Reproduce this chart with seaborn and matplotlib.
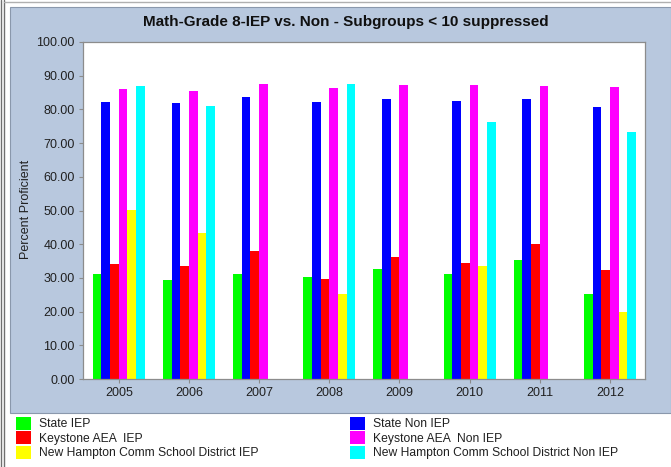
import numpy as np
import pandas as pd
import matplotlib
matplotlib.use("Agg")
import matplotlib.pyplot as plt
import seaborn as sns
from matplotlib.patches import Rectangle, Patch
from matplotlib.lines import Line2D
from matplotlib.ticker import FormatStrFormatter, MultipleLocator

# ---- data -------------------------------------------------------------
years = ["2005", "2006", "2007", "2008", "2009", "2010", "2011", "2012"]
series = [
    "State IEP",
    "State Non IEP",
    "Keystone AEA  IEP",
    "Keystone AEA  Non IEP",
    "New Hampton Comm School District IEP",
    "New Hampton Comm School District Non IEP",
]
state_iep = [31.1, 29.4, 31.1, 30.3, 32.5, 31.1, 35.3, 25.3]
state_non_iep = [82.1, 81.8, 83.6, 82.1, 83.2, 82.5, 83.2, 80.7]
keystone_iep = [34.1, 33.4, 37.9, 29.6, 36.2, 34.5, 40.0, 32.4]
keystone_non_iep = [86.0, 85.6, 87.6, 86.3, 87.3, 87.3, 87.0, 86.7]
# subgroups < 10 are suppressed (no bar)
nh_iep = [50.2, 43.2, np.nan, 25.3, np.nan, 33.5, np.nan, 20.0]
nh_non_iep = [87.0, 81.1, np.nan, 87.6, np.nan, 76.4, np.nan, 73.3]
colors = ["#00FF00", "#0000FF", "#FF0000", "#FF00FF", "#FFFF00", "#00FFFF"]

values = [state_iep, state_non_iep, keystone_iep, keystone_non_iep, nh_iep, nh_non_iep]
rows = []
for name, vals in zip(series, values):
    for yr, v in zip(years, vals):
        if not np.isnan(v):
            rows.append({"Year": yr, "Series": name, "Value": v})
df = pd.DataFrame(rows)

# ---- figure -----------------------------------------------------------
W, H = 671, 467
sns.set_style("white")
plt.rcParams["font.family"] = ["Liberation Sans", "DejaVu Sans"]

fig = plt.figure(figsize=(W / 100, H / 100), dpi=100, facecolor="white")

# window frame and blue chart panel
fig.add_artist(Line2D([1.2 / W, 1.2 / W], [0, 1], color="#707070", lw=1.0))
fig.add_artist(Line2D([3.6 / W, 3.6 / W], [0, 1], color="#707070", lw=1.0))
fig.add_artist(Line2D([4 / W, 1], [1 - 1.5 / H, 1 - 1.5 / H], color="#B0B0B0", lw=1.0))
panel = Rectangle((10 / W, (H - 413) / H), (W - 10) / W, (413 - 7) / H,
                  transform=fig.transFigure, facecolor="#B8C8DE",
                  edgecolor="#8A98AC", lw=0.8, zorder=-1)
fig.patches.append(panel)

ax = fig.add_axes([83 / W, (H - 379) / H, (645 - 83) / W, (379 - 42) / H])
ax.set_facecolor("white")

sns.barplot(data=df, x="Year", y="Value", hue="Series", order=years,
            hue_order=series, palette=colors, width=0.74, saturation=1,
            errorbar=None, linewidth=0, legend=False, ax=ax)

ax.set_ylim(0, 100)
ax.set_xlim(-0.51, 7.5)
ax.yaxis.set_major_locator(MultipleLocator(10))
ax.yaxis.set_major_formatter(FormatStrFormatter("%.2f"))
ax.set_xlabel("")
ax.set_ylabel("")
for s in ax.spines.values():
    s.set_color("#8C8C8C")
    s.set_linewidth(0.9)
ax.tick_params(axis="both", which="major", length=3, width=0.8,
               color="#8C8C8C", labelsize=9, labelcolor="#202020",
               direction="out", left=True, bottom=True, pad=3)

fig.text(26 / W, 1 - 209 / H, "Percent Proficient", rotation=90,
         ha="center", va="center", fontsize=9, color="#202020")

fig.text(346 / W, 1 - 22 / H, "Math-Grade 8-IEP vs. Non - Subgroups < 10 suppressed",
         ha="center", va="center", fontsize=11, fontweight="bold", color="#101010")

# ---- legend (two columns under the panel) -----------------------------
handles = [Patch(facecolor=c, edgecolor="none") for c in colors]
left_idx = [0, 2, 4]
right_idx = [1, 3, 5]
common = dict(frameon=False, fontsize=8.7, handlelength=1.25, handleheight=1.25,
              handletextpad=0.65, labelspacing=0.08, borderpad=0,
              borderaxespad=0, loc="upper left")
leg1 = fig.legend([handles[i] for i in left_idx], [series[i] for i in left_idx],
                  bbox_to_anchor=(15.7 / W, 1 - 417 / H), **common)
leg2 = fig.legend([handles[i] for i in right_idx], [series[i] for i in right_idx],
                  bbox_to_anchor=(350 / W, 1 - 417 / H), **common)
for leg in (leg1, leg2):
    for t in leg.get_texts():
        t.set_color("#202020")

fig.savefig("out.png", dpi=100, facecolor="white")
